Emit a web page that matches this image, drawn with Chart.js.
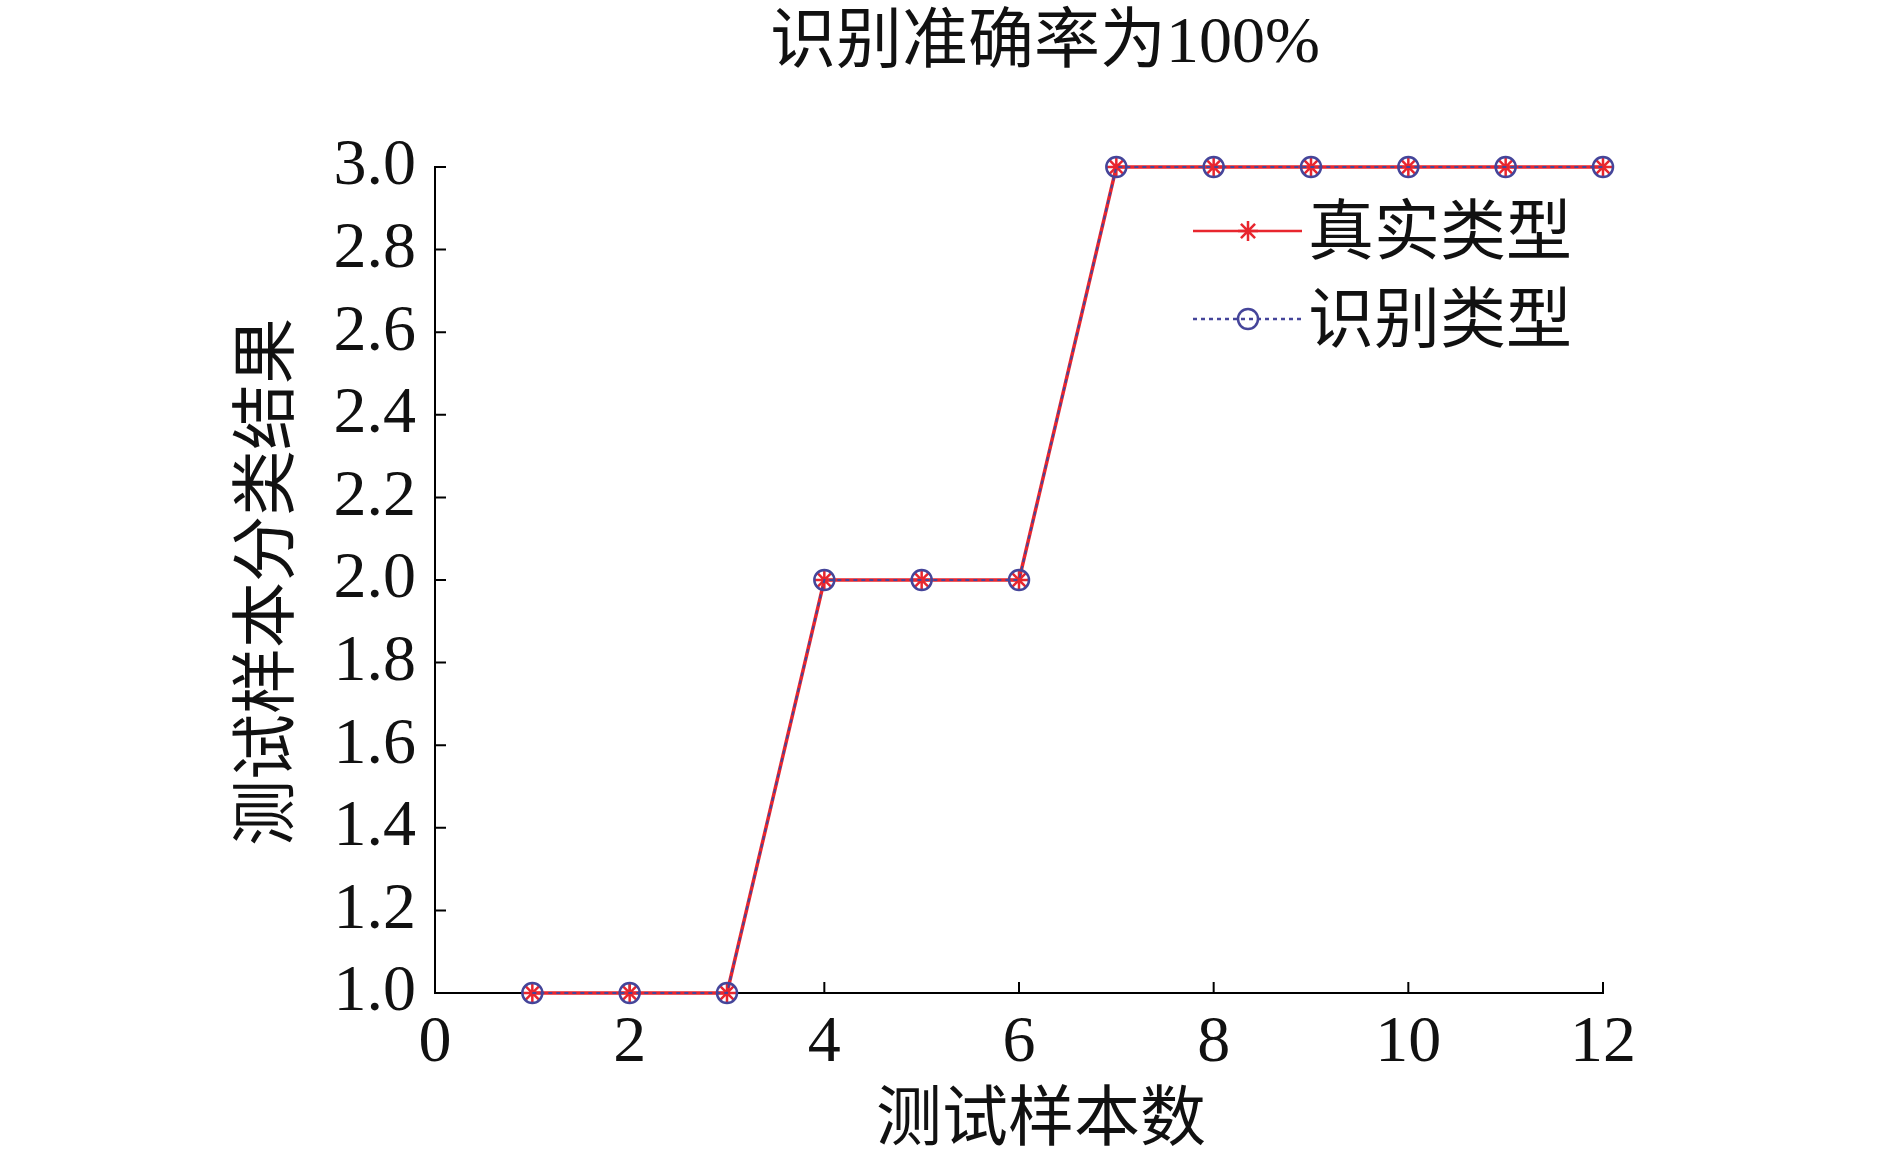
<!DOCTYPE html>
<html>
<head>
<meta charset="utf-8">
<script src="https://cdn.jsdelivr.net/npm/chart.js@4/dist/chart.umd.min.js"></script>
<style>
  html, body { margin: 0; padding: 0; background: #fff; }
  canvas { display: block; }
</style>
</head>
<body>
<canvas id="chart" width="1890" height="1165"></canvas>
<script>
// sample index and class labels (1 / 2 / 3)
const sampleIdx = [1, 2, 3, 4, 5, 6, 7, 8, 9, 10, 11, 12];
const trueType = [1, 1, 1, 2, 2, 2, 3, 3, 3, 3, 3, 3];
const predType = [1, 1, 1, 2, 2, 2, 3, 3, 3, 3, 3, 3];
const xTicks = [0, 2, 4, 6, 8, 10, 12];
const yTicks = [1.0, 1.2, 1.4, 1.6, 1.8, 2.0, 2.2, 2.4, 2.6, 2.8, 3.0];

const titleText = '识别准确率为100%';
const xTitle = '测试样本数';
const yTitle = '测试样本分类结果';
const seriesNames = ['真实类型', '识别类型'];

const RED = '#e8262e';
const BLUE = '#45459a';
const FONT = '"Liberation Serif", "Noto Sans CJK SC", serif';

const toPoints = ys => sampleIdx.map((x, i) => ({ x: x, y: ys[i] }));

// inward tick marks, titles and the legend
const decorations = {
    id: 'decorations',
    beforeDatasetsDraw(chart) {
        const ctx = chart.ctx;
        const xs = chart.scales.x, ys = chart.scales.y;
        const area = chart.chartArea;
        ctx.save();
        ctx.strokeStyle = '#000';
        ctx.lineWidth = 2;
        ctx.beginPath();
        xTicks.forEach(v => {
            const px = xs.getPixelForValue(v);
            ctx.moveTo(px, area.bottom);
            ctx.lineTo(px, area.bottom - 11);
        });
        yTicks.forEach(v => {
            const py = ys.getPixelForValue(v);
            ctx.moveTo(area.left, py);
            ctx.lineTo(area.left + 11, py);
        });
        ctx.stroke();
        ctx.restore();
    },
    afterDraw(chart) {
        const ctx = chart.ctx;
        const area = chart.chartArea;
        ctx.save();
        ctx.fillStyle = '#111';
        ctx.font = '66px ' + FONT;
        ctx.textAlign = 'center';
        ctx.textBaseline = 'middle';
        ctx.fillText(titleText, 1045, 45);
        ctx.fillText(xTitle, 1041, 1123);

        ctx.save();
        ctx.translate(271, 582);
        ctx.rotate(-Math.PI / 2);
        ctx.fillText(yTitle, 0, 0);
        ctx.restore();

        // legend
        const lx0 = area.left + 758, lx1 = area.left + 867, lm = area.left + 813;
        const rows = [
            { y: area.top + 64, color: RED, dash: [], style: 'star', width: 2.5 },
            { y: area.top + 152, color: BLUE, dash: [4, 4], style: 'circle', width: 2.5 }
        ];
        rows.forEach((r, i) => {
            ctx.strokeStyle = r.color;
            ctx.lineWidth = r.width;
            ctx.setLineDash(r.dash);
            ctx.beginPath();
            ctx.moveTo(lx0, r.y);
            ctx.lineTo(lx1, r.y);
            ctx.stroke();
            ctx.setLineDash([]);
            ctx.fillStyle = 'rgba(0,0,0,0)';
            Chart.helpers.drawPoint(ctx, { pointStyle: r.style, radius: 10, borderWidth: 2.5, rotation: 0 }, lm, r.y);
            ctx.fillStyle = '#111';
            ctx.textAlign = 'left';
            ctx.fillText(seriesNames[i], area.left + 873, r.y + 6);
        });
        ctx.restore();
    }
};

new Chart(document.getElementById('chart'), {
    type: 'line',
    data: {
        datasets: [
            {
                label: seriesNames[0],
                data: toPoints(trueType),
                order: 1,
                clip: false,
                borderColor: RED,
                backgroundColor: RED,
                borderWidth: 3.5,
                pointStyle: 'star',
                pointRadius: 10,
                pointBorderWidth: 2.5,
                pointBorderColor: RED,
                tension: 0
            },
            {
                label: seriesNames[1],
                data: toPoints(predType),
                order: 0,
                clip: false,
                borderColor: BLUE,
                backgroundColor: 'rgba(0,0,0,0)',
                borderWidth: 2,
                borderDash: [4, 4],
                pointStyle: 'circle',
                pointRadius: 10,
                pointBorderWidth: 2.5,
                pointBorderColor: BLUE,
                pointBackgroundColor: 'rgba(0,0,0,0)',
                tension: 0
            }
        ]
    },
    options: {
        responsive: false,
        animation: false,
        devicePixelRatio: 1,
        layout: { padding: { top: 167, right: 287, left: 0, bottom: 0 } },
        plugins: {
            legend: { display: false },
            title: { display: false },
            tooltip: { enabled: false }
        },
        scales: {
            x: {
                type: 'linear',
                min: 0,
                max: 12,
                afterFit: s => { s.height = 172; },
                afterBuildTicks: s => { s.ticks = xTicks.map(v => ({ value: v })); },
                grid: { display: true, drawOnChartArea: false, drawTicks: false },
                border: { color: '#000', width: 2 },
                ticks: {
                    color: '#111',
                    padding: 11,
                    maxRotation: 0,
                    font: { family: FONT, size: 66 },
                    callback: v => String(v)
                }
            },
            y: {
                type: 'linear',
                min: 1,
                max: 3,
                afterFit: s => { s.width = 435; },
                afterBuildTicks: s => { s.ticks = yTicks.map(v => ({ value: v })); },
                grid: { display: true, drawOnChartArea: false, drawTicks: false },
                border: { color: '#000', width: 2 },
                ticks: {
                    color: '#111',
                    padding: 19,
                    font: { family: FONT, size: 66 },
                    callback: v => Number(v).toFixed(1)
                }
            }
        }
    },
    plugins: [decorations]
});
</script>
</body>
</html>
